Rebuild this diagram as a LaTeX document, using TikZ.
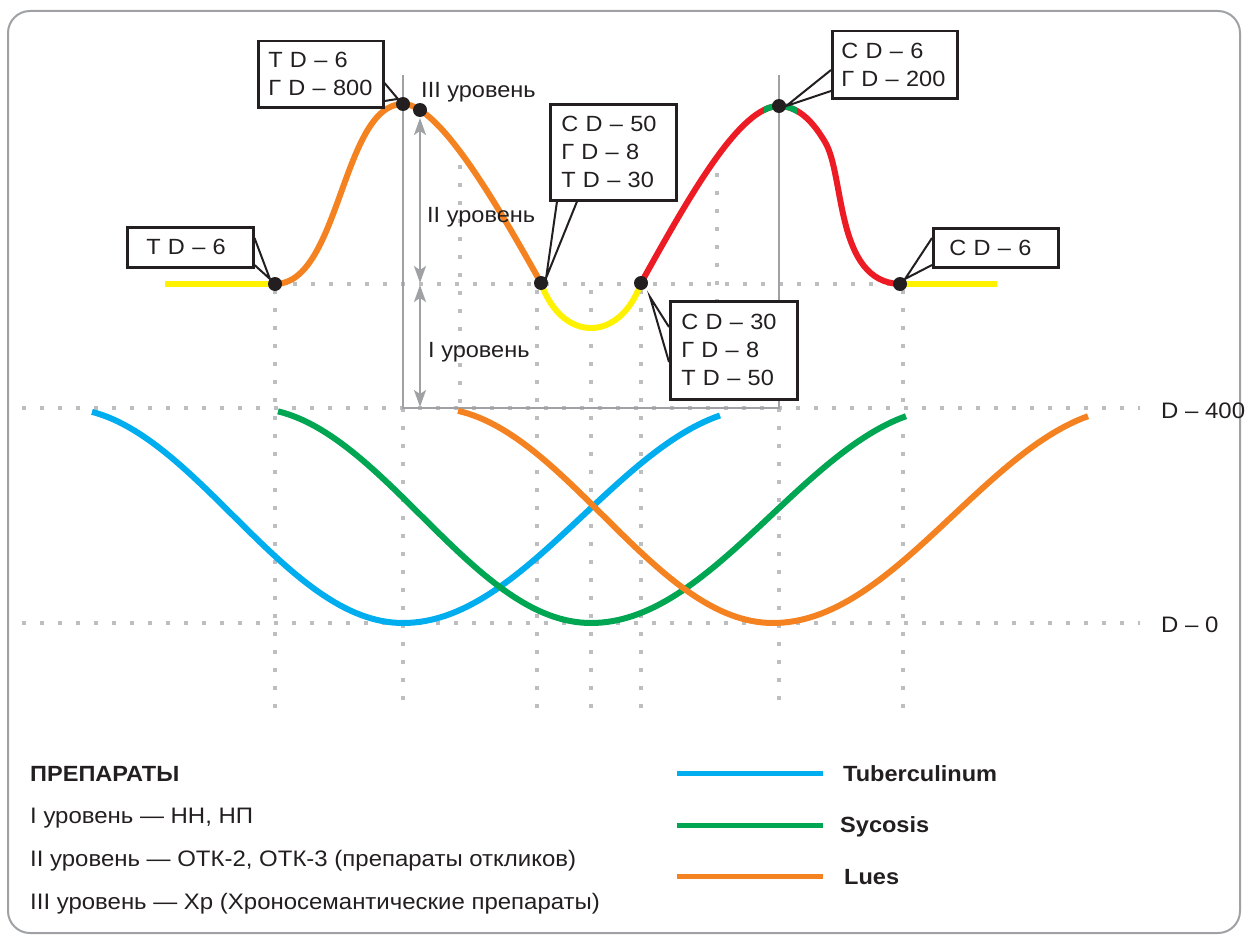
\documentclass[tikz,border=0pt]{standalone}
\usepackage{fontspec}
\setmainfont[FakeStretch=1.07]{Liberation Sans}
\usetikzlibrary{arrows.meta,calc}
\definecolor{cyanb}{HTML}{00AEEF}
\definecolor{greenb}{HTML}{00A651}
\definecolor{orangeb}{HTML}{F58220}
\definecolor{redb}{HTML}{ED1C24}
\definecolor{yellowb}{HTML}{FFF200}
\definecolor{framegray}{HTML}{A0A1A4}
\definecolor{dotgray}{HTML}{BCBEC0}
\definecolor{txt}{HTML}{231F20}
\begin{document}
\begin{tikzpicture}[x=1pt,y=-1pt,
  dotline/.style={draw=dotgray,line width=3.8pt,dash pattern=on 3.8pt off 14.2pt},
  curve/.style={line width=6pt,line cap=butt,line join=round},
  wave/.style={line width=6pt,line join=round},
  dotnode/.style={circle,fill=txt,minimum size=14pt,inner sep=0pt},
  cbox/.style={draw=txt,fill=white,line width=2.5pt,align=left,anchor=north west,
    font=\fontsize{22pt}{28pt}\selectfont,text=txt,inner ysep=0pt},
  ptr/.style={draw=txt,line width=2pt,line join=miter},
  garrow/.style={draw=framegray,fill=framegray,line width=2pt,
    arrows={Stealth[length=17pt,width=12pt,inset=4pt]-Stealth[length=17pt,width=12pt,inset=4pt]}},
  lbl/.style={anchor=base west,text=txt,font=\fontsize{22pt}{26pt}\selectfont,inner sep=0pt},
  leg/.style={anchor=base west,text=txt,font=\fontsize{22.4pt}{26pt}\selectfont,inner sep=0pt},
  legb/.style={anchor=base west,text=txt,font=\fontsize{22pt}{26pt}\selectfont\bfseries,inner sep=0pt},
  legline/.style={line width=5pt}]
\useasboundingbox (0,0) rectangle (1247,934);
% frame
\draw[framegray,line width=2pt,rounded corners=22pt] (8,11) rectangle (1240,933);
% dotted grid
\draw[dotline] (275,284) -- (900,284);
\draw[dotline] (22,408) -- (1140,408);
\draw[dotline] (22,623) -- (1140,623);
\foreach \xx in {275,537,591,641,903} \draw[dotline] (\xx,290) -- (\xx,708);
\foreach \xx in {403,779} \draw[dotline] (\xx,408) -- (\xx,708);
\draw[dotline] (460,165) -- (460,408);
\draw[dotline] (717,173) -- (717,408);
% gray frame of levels
\draw[framegray,line width=2.5pt] (403,75) -- (403,408) -- (779,408) -- (779,75);
% points
\coordinate (p1) at (275,284);
\coordinate (p2) at (403,104);
\coordinate (p3) at (420,110);
\coordinate (p4) at (541,283);
\coordinate (p5) at (641,283);
\coordinate (p6) at (779,106);
\coordinate (p7) at (900,284);
% top curve
\draw[curve,yellowb] (165,284) -- (p1);
\draw[curve,orangeb] (p1) .. controls (340,284) and (342,104) .. (p2) .. controls (440,104) and (500,210) .. (p4);
\draw[curve,yellowb] (p4) .. controls (562,343) and (620,343) .. (p5);
\draw[curve,redb] (p5) .. controls (690,195) and (740,106) .. (p6) .. controls (800,106) and (815,125) .. (825,142) .. controls (845,175) and (835,282) .. (p7);
\begin{scope}
\clip (764,80) rectangle (797,130);
\draw[curve,greenb] (p5) .. controls (690,195) and (740,106) .. (p6) .. controls (800,106) and (815,125) .. (825,142);
\end{scope}
\draw[curve,yellowb] (p7) -- (997,284);
% level arrows
\draw[garrow] (420,118) -- (420,283);
\draw[garrow] (420,285) -- (420,407);
\node[lbl] (l3) at (421,97) {III уровень};
\node[lbl] (l2) at (427,222) {II уровень};
\node[lbl] (l1) at (428,357) {I уровень};
% bottom waves
\draw[wave,cyanb] plot[domain=-311:0,samples=60] ({403+\x},{623-107.5*(1-cos(0.529412*\x))}) -- plot[domain=0:317,samples=60] ({403+\x},{623-107.5*(1-cos(0.5*\x))});
\draw[wave,greenb] plot[domain=-313:0,samples=60] ({591+\x},{623-107.5*(1-cos(0.529412*\x))}) -- plot[domain=0:315,samples=60] ({591+\x},{623-107.5*(1-cos(0.5*\x))});
\draw[wave,orangeb] plot[domain=-315:0,samples=60] ({773+\x},{623-107.5*(1-cos(0.529412*\x))}) -- plot[domain=0:315,samples=60] ({773+\x},{623-107.5*(1-cos(0.5*\x))});
% dots
\node[dotnode] (d1) at (p1) {};
\node[dotnode] (d2) at (p2) {};
\node[dotnode] (d3) at (p3) {};
\node[dotnode] (d4) at (p4) {};
\node[dotnode] (d5) at (p5) {};
\node[dotnode] (d6) at (p6) {};
\node[dotnode] (d7) at (p7) {};
% callout boxes
\node[cbox,inner xsep=19pt,text width=88pt,minimum height=40pt] (b1) at (126,226) {Т D – 6};
\node[cbox,inner xsep=10pt,text width=105pt,minimum height=66pt] (b2) at (257,40) {Т D – 6\\Г D – 800};
\node[cbox,inner xsep=11pt,text width=104pt,minimum height=96pt] (b3) at (549,103) {С D – 50\\Г D – 8\\Т D – 30};
\node[cbox,inner xsep=11pt,text width=105pt,minimum height=98pt] (b4) at (669,300) {С D – 30\\Г D – 8\\Т D – 50};
\node[cbox,inner xsep=9pt,text width=107pt,minimum height=67pt] (b5) at (831,30) {С D – 6\\Г D – 200};
\node[cbox,inner xsep=16pt,text width=93pt,minimum height=39pt] (b6) at (932,227) {С D – 6};
% pointers
\draw[ptr] ($(b1.north east)+(0,12)$) -- (d1.north west) -- ($(b1.north east)+(0,39)$);
\draw[ptr] ($(b2.north east)+(0,43)$) -- (d2.north west) -- ($(b2.north east)+(0,61)$);
\draw[ptr] ($(b3.south west)+(8,0)$) -- (d4.north east) -- ($(b3.south west)+(28,0)$);
\draw[ptr] ($(b4.north west)+(0,27)$) -- ($(d5)+(9,14)$) -- ($(b4.north west)+(0,62)$);
\draw[ptr] ($(b5.north west)+(0,40)$) -- (d6.east) -- ($(b5.north west)+(0,61)$);
\draw[ptr] ($(b6.north west)+(0,11)$) -- (d7.north east) -- ($(b6.north west)+(0,38)$);
% axis labels
\node[leg] (t400) at (1161,418) {D – 400};
\node[leg] (t0) at (1161,632) {D – 0};
% legend left
\node[legb] (g0) at (30,781) {ПРЕПАРАТЫ};
\node[leg] (g1) at (30,823) {I уровень — НН, НП};
\node[leg] (g2) at (30,866) {II уровень — ОТК-2, ОТК-3 (препараты откликов)};
\node[leg] (g3) at (30,909) {III уровень — Хр (Хроносемантические препараты)};
% legend right
\coordinate (la1) at (677,773); \coordinate (lb1) at (823,773);
\coordinate (la2) at (677,825); \coordinate (lb2) at (823,825);
\coordinate (la3) at (677,876); \coordinate (lb3) at (823,876);
\draw[legline,cyanb] (la1) -- (lb1);
\draw[legline,greenb] (la2) -- (lb2);
\draw[legline,orangeb] (la3) -- (lb3);
\node[legb] (n1) at (843,781) {Tuberculinum};
\node[legb] (n2) at (840,832) {Sycosis};
\node[legb] (n3) at (844,884) {Lues};
\end{tikzpicture}
\end{document}
